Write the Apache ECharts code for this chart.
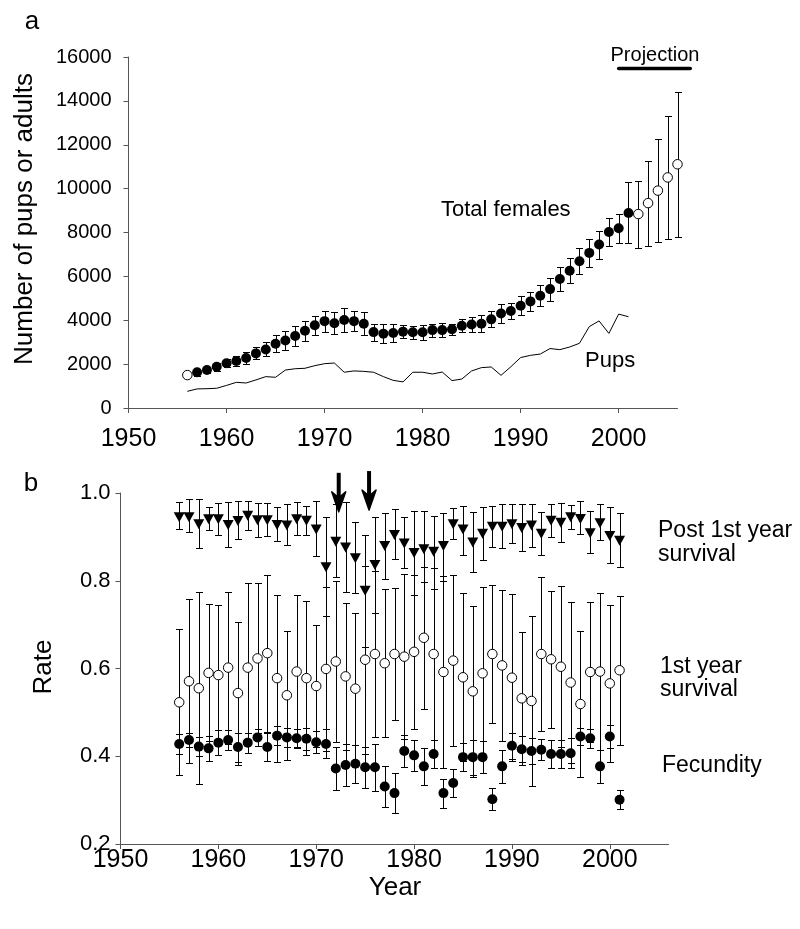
<!DOCTYPE html>
<html><head><meta charset="utf-8">
<script src="https://cdn.jsdelivr.net/npm/echarts@6/dist/echarts.min.js"></script>
<style>html,body{margin:0;padding:0;background:#fff}#c{width:800px;height:929px}</style>
</head><body><div id="c"></div>
<script>
// ---------- Panel a data ----------
const femaleYears = [1956,1957,1958,1959,1960,1961,1962,1963,1964,1965,1966,1967,1968,1969,1970,1971,1972,1973,1974,1975,1976,1977,1978,1979,1980,1981,1982,1983,1984,1985,1986,1987,1988,1989,1990,1991,1992,1993,1994,1995,1996,1997,1998,1999,2000,2001,2002,2003,2004,2005,2006];
const femaleValues = [1500,1630,1730,1880,2040,2140,2280,2490,2670,2930,3080,3280,3520,3770,3960,3860,4010,3960,3840,3460,3390,3420,3480,3450,3450,3550,3550,3590,3750,3810,3840,4040,4310,4420,4660,4860,5120,5420,5880,6260,6690,7070,7450,8020,8190,8890,8840,9340,9910,10510,11110];
const femaleLow = [null,1480,1580,1700,1860,1910,2000,2220,2350,2550,2640,2830,3060,3330,3480,3360,3480,3490,3320,3070,2960,3030,3170,3150,3110,3250,3240,3330,3460,3460,3460,3680,3880,4070,4230,4420,4640,4900,5330,5680,6100,6430,6810,7400,7540,7500,7280,7380,7570,7690,7780];
const femaleHigh = [null,1780,1880,2060,2220,2370,2560,2760,2990,3310,3520,3730,3980,4210,4440,4360,4540,4430,4360,3850,3820,3810,3790,3750,3790,3850,3860,3850,4040,4160,4220,4400,4740,4770,5090,5300,5600,5940,6430,6840,7280,7710,8090,8640,8840,10320,10360,11260,12250,13290,14390];
const femaleOpenYears = [1956,2002,2003,2004,2005,2006];

const pupYears = [1956,1957,1958,1959,1960,1961,1962,1963,1964,1965,1966,1967,1968,1969,1970,1971,1972,1973,1974,1975,1976,1977,1978,1979,1980,1981,1982,1983,1984,1985,1986,1987,1988,1989,1990,1991,1992,1993,1994,1995,1996,1997,1998,1999,2000,2001];
const pupValues = [760,870,880,900,1030,1170,1140,1280,1430,1400,1730,1790,1810,1930,2020,2050,1630,1690,1670,1630,1430,1260,1190,1630,1630,1550,1640,1250,1320,1690,1840,1870,1490,1880,2300,2400,2460,2710,2660,2780,2950,3710,3970,3400,4280,4160];

const projectionSpan = [2000.0, 2007.3];
const projectionLevel = 15480;

const xTicksA = [1950,1960,1970,1980,1990,2000];

// ---------- Panel b data ----------
const rateYears = [1956,1957,1958,1959,1960,1961,1962,1963,1964,1965,1966,1967,1968,1969,1970,1971,1972,1973,1974,1975,1976,1977,1978,1979,1980,1981,1982,1983,1984,1985,1986,1987,1988,1989,1990,1991,1992,1993,1994,1995,1996,1997,1998,1999,2000,2001];
const postSurvival = [0.945,0.945,0.929,0.940,0.940,0.927,0.936,0.948,0.938,0.938,0.927,0.926,0.940,0.937,0.917,0.831,0.889,0.876,0.851,0.777,0.836,0.879,0.904,0.885,0.863,0.872,0.866,0.879,0.929,0.917,0.887,0.907,0.923,0.923,0.929,0.920,0.926,0.907,0.937,0.932,0.945,0.941,0.908,0.931,0.902,0.891];
const postHigh = [0.979,0.986,0.986,0.969,0.978,0.980,0.981,0.982,0.977,0.978,0.968,0.974,0.980,0.970,0.982,0.945,0.974,0.980,0.934,0.904,0.946,0.955,0.964,0.945,0.959,0.960,0.948,0.955,0.965,0.970,0.956,0.967,0.971,0.976,0.974,0.975,0.976,0.957,0.974,0.978,0.973,0.981,0.959,0.974,0.967,0.954];
const postLow = [0.917,0.910,0.875,0.916,0.904,0.878,0.895,0.916,0.900,0.902,0.891,0.881,0.904,0.904,0.857,0.720,0.809,0.774,0.771,0.650,0.727,0.804,0.850,0.829,0.767,0.797,0.781,0.800,0.895,0.859,0.820,0.847,0.878,0.874,0.885,0.868,0.878,0.859,0.899,0.889,0.917,0.907,0.863,0.893,0.840,0.831];

const firstSurvival = [0.523,0.571,0.555,0.590,0.585,0.602,0.544,0.602,0.623,0.635,0.578,0.539,0.593,0.578,0.560,0.599,0.616,0.582,0.554,0.620,0.633,0.612,0.633,0.627,0.638,0.670,0.633,0.592,0.618,0.580,0.548,0.589,0.633,0.607,0.579,0.532,0.526,0.633,0.621,0.604,0.568,0.519,0.592,0.593,0.566,0.596];
const firstError = [0.166,0.187,0.219,0.156,0.159,0.173,0.163,0.194,0.171,0.179,0.190,0.147,0.175,0.175,0.140,0.186,0.184,0.168,0.173,0.214,0.190,0.169,0.150,0.188,0.175,0.162,0.195,0.219,0.195,0.191,0.195,0.196,0.157,0.172,0.190,0.152,0.194,0.176,0.156,0.184,0.184,0.167,0.159,0.178,0.179,0.170];

const fecundity = [0.428,0.437,0.422,0.418,0.431,0.437,0.421,0.431,0.443,0.421,0.447,0.443,0.441,0.440,0.432,0.428,0.372,0.380,0.383,0.375,0.375,0.331,0.316,0.412,0.402,0.377,0.405,0.316,0.339,0.398,0.398,0.398,0.302,0.377,0.424,0.416,0.412,0.415,0.405,0.405,0.407,0.445,0.441,0.377,0.445,0.301];
const fecundityError = [0.023,0.017,0.021,0.028,0.029,0.023,0.033,0.023,0.020,0.032,0.021,0.021,0.020,0.025,0.025,0.033,0.049,0.047,0.043,0.047,0.054,0.046,0.046,0.036,0.035,0.042,0.031,0.033,0.031,0.032,0.040,0.036,0.025,0.038,0.030,0.030,0.030,0.024,0.032,0.032,0.034,0.020,0.022,0.038,0.026,0.021];

const arrowYears = [1972.3, 1975.4];
const arrowFrom = [1.046, 1.050];
const arrowTo = [0.957, 0.961];

const xTicksB = [1950,1960,1970,1980,1990,2000];

// ---------- build ----------
const FONT = 'Liberation Sans, Arial, sans-serif';
const AX = '#555';

function errorBar(capHalf) {
  return function (params, api) {
    const x = api.value(0), lo = api.value(1), hi = api.value(2);
    const a = api.coord([x, lo]), b = api.coord([x, hi]);
    const px = Math.round(a[0]) + 0.5;
    const yl = Math.round(a[1]) + 0.5, yh = Math.round(b[1]) + 0.5;
    const st = { stroke: '#000', lineWidth: 1 };
    return { type: 'group', children: [
      { type: 'line', shape: { x1: px, y1: yl, x2: px, y2: yh }, style: st },
      { type: 'line', shape: { x1: px - capHalf, y1: yl, x2: px + capHalf, y2: yl }, style: st },
      { type: 'line', shape: { x1: px - capHalf, y1: yh, x2: px + capHalf, y2: yh }, style: st }
    ]};
  };
}

const femaleErrData = [], femaleFilled = [], femaleOpen = [];
femaleYears.forEach((y, i) => {
  if (femaleLow[i] != null) femaleErrData.push([y, femaleLow[i], femaleHigh[i]]);
  if (femaleOpenYears.indexOf(y) >= 0) femaleOpen.push([y, femaleValues[i]]);
  else femaleFilled.push([y, femaleValues[i]]);
});
const pupData = pupYears.map((y, i) => [y, pupValues[i]]);

const postErr = rateYears.map((y, i) => [y, postLow[i], postHigh[i]]);
const firstErr = rateYears.map((y, i) => [y, firstSurvival[i] - firstError[i], firstSurvival[i] + firstError[i]]);
const fecErr = rateYears.map((y, i) => [y, fecundity[i] - fecundityError[i], fecundity[i] + fecundityError[i]]);
const postPts = rateYears.map((y, i) => [y, postSurvival[i]]);
const firstPts = rateYears.map((y, i) => [y, firstSurvival[i]]);
const fecPts = rateYears.map((y, i) => [y, fecundity[i]]);
const arrowData = arrowYears.map((y, i) => [y, arrowFrom[i], arrowTo[i]]);

function xAxisCfg(grid, ticks, margin) {
  return {
    type: 'value', gridIndex: grid, min: 1950, max: 2006, interval: 10,
    axisLine: { show: true, onZero: false, lineStyle: { color: AX, width: 1 } },
    axisTick: { show: true, length: 5, customValues: ticks, lineStyle: { color: AX } },
    axisLabel: { customValues: ticks, fontSize: 25, color: '#000', fontFamily: FONT, margin: margin,
      formatter: v => String(v) },
    splitLine: { show: false }
  };
}

const filled = { color: '#000', opacity: 1 };
const hollow = { color: '#fff', borderColor: '#000', borderWidth: 1, opacity: 1 };

const chart = echarts.init(document.getElementById('c'), null, { renderer: 'canvas' });
chart.setOption({
  animation: false,
  backgroundColor: '#fff',
  grid: [
    { left: 128.5, top: 57, width: 549, height: 351, containLabel: false, outerBoundsMode: 'none' },
    { left: 120.5, top: 493, width: 548, height: 351, containLabel: false, outerBoundsMode: 'none' }
  ],
  xAxis: [ xAxisCfg(0, xTicksA, 19), xAxisCfg(1, xTicksB, 4) ],
  yAxis: [
    { type: 'value', gridIndex: 0, min: 0, max: 16000, interval: 2000,
      axisLine: { show: true, onZero: false, lineStyle: { color: AX } },
      axisTick: { show: true, length: 5, lineStyle: { color: AX } },
      axisLabel: { fontSize: 20, color: '#000', fontFamily: FONT, margin: 17, formatter: v => String(v) },
      splitLine: { show: false } },
    { type: 'value', gridIndex: 1, min: 0.2, max: 1.0, interval: 0.2,
      axisLine: { show: true, onZero: false, lineStyle: { color: AX } },
      axisTick: { show: true, length: 5, lineStyle: { color: AX } },
      axisLabel: { fontSize: 22, color: '#000', fontFamily: FONT, margin: 10, formatter: v => v.toFixed(1) },
      splitLine: { show: false } }
  ],
  series: [
    { type: 'line', xAxisIndex: 0, yAxisIndex: 0, data: pupData, symbol: 'none',
      lineStyle: { color: '#000', width: 1 }, z: 2 },
    { type: 'custom', xAxisIndex: 0, yAxisIndex: 0, data: femaleErrData, renderItem: errorBar(3.5),
      encode: { x: 0, y: [1, 2] }, z: 3, clip: false },
    { type: 'scatter', xAxisIndex: 0, yAxisIndex: 0, data: femaleFilled, symbol: 'circle', symbolSize: 10,
      itemStyle: filled, z: 5 },
    { type: 'scatter', xAxisIndex: 0, yAxisIndex: 0, data: femaleOpen, symbol: 'circle', symbolSize: 9.5,
      itemStyle: hollow, z: 5 },
    { type: 'custom', xAxisIndex: 0, yAxisIndex: 0, clip: false, z: 6,
      data: [[projectionSpan[0], projectionSpan[1], projectionLevel]],
      encode: { x: [0, 1], y: 2 },
      renderItem: function (params, api) {
        const a = api.coord([api.value(0), api.value(2)]);
        const b = api.coord([api.value(1), api.value(2)]);
        return { type: 'line', shape: { x1: a[0], y1: a[1], x2: b[0], y2: b[1] },
          style: { stroke: '#000', lineWidth: 3.5, lineCap: 'round' } };
      } },
    // panel b
    { type: 'custom', xAxisIndex: 1, yAxisIndex: 1, data: firstErr, renderItem: errorBar(3.5), encode: { x: 0, y: [1, 2] }, z: 3, clip: false },
    { type: 'custom', xAxisIndex: 1, yAxisIndex: 1, data: postErr, renderItem: errorBar(3.5), encode: { x: 0, y: [1, 2] }, z: 3, clip: false },
    { type: 'custom', xAxisIndex: 1, yAxisIndex: 1, data: fecErr, renderItem: errorBar(3.5), encode: { x: 0, y: [1, 2] }, z: 3, clip: false },
    { type: 'scatter', xAxisIndex: 1, yAxisIndex: 1, data: postPts, symbol: 'triangle', symbolRotate: 180,
      symbolSize: [11, 10], itemStyle: filled, z: 5 },
    { type: 'scatter', xAxisIndex: 1, yAxisIndex: 1, data: firstPts, symbol: 'circle', symbolSize: 9.5,
      itemStyle: hollow, z: 5 },
    { type: 'scatter', xAxisIndex: 1, yAxisIndex: 1, data: fecPts, symbol: 'circle', symbolSize: 10,
      itemStyle: filled, z: 5 },
    { type: 'custom', xAxisIndex: 1, yAxisIndex: 1, data: arrowData, clip: false, z: 7,
      encode: { x: 0, y: [1, 2] },
      renderItem: function (params, api) {
        const t = api.coord([api.value(0), api.value(1)]);
        const h = api.coord([api.value(0), api.value(2)]);
        const x = t[0];
        return { type: 'group', children: [
          { type: 'line', shape: { x1: x, y1: t[1], x2: x, y2: h[1] - 12 }, style: { stroke: '#000', lineWidth: 4 } },
          { type: 'polygon', shape: { points: [[x, h[1]], [x - 7, h[1] - 20], [x, h[1] - 14], [x + 7, h[1] - 20]] },
            style: { fill: '#000', stroke: '#000', lineWidth: 1.5, lineJoin: 'round' } }
        ]};
      } }
  ],
  graphic: [
    { type: 'text', style: { text: 'a', x: 32, y: 22, fontSize: 26, fontFamily: FONT, fill: '#000', textAlign: 'center', textVerticalAlign: 'middle' } },
    { type: 'text', style: { text: 'b', x: 31, y: 484, fontSize: 26, fontFamily: FONT, fill: '#000', textAlign: 'center', textVerticalAlign: 'middle' } },
    { type: 'text', rotation: Math.PI / 2, x: 25, y: 219, style: { text: 'Number of pups or adults', x: 0, y: 0, fontSize: 26, fontFamily: FONT, fill: '#000', textAlign: 'center', textVerticalAlign: 'middle' } },
    { type: 'text', rotation: Math.PI / 2, x: 44, y: 667, style: { text: 'Rate', x: 0, y: 0, fontSize: 26, fontFamily: FONT, fill: '#000', textAlign: 'center', textVerticalAlign: 'middle' } },
    { type: 'text', style: { text: 'Year', x: 395, y: 888, fontSize: 26, fontFamily: FONT, fill: '#000', textAlign: 'center', textVerticalAlign: 'middle' } },
    { type: 'text', style: { text: 'Projection', x: 655, y: 55, fontSize: 20, fontFamily: FONT, fill: '#000', textAlign: 'center', textVerticalAlign: 'middle' } },
    { type: 'text', style: { text: 'Total females', x: 441, y: 210, fontSize: 22, fontFamily: FONT, fill: '#000', textAlign: 'left', textVerticalAlign: 'middle' } },
    { type: 'text', style: { text: 'Pups', x: 585, y: 361, fontSize: 22, fontFamily: FONT, fill: '#000', textAlign: 'left', textVerticalAlign: 'middle' } },
    { type: 'text', style: { text: 'Post 1st year', x: 658, y: 531, fontSize: 23, fontFamily: FONT, fill: '#000', textAlign: 'left', textVerticalAlign: 'middle' } },
    { type: 'text', style: { text: 'survival', x: 658, y: 555, fontSize: 23, fontFamily: FONT, fill: '#000', textAlign: 'left', textVerticalAlign: 'middle' } },
    { type: 'text', style: { text: '1st year', x: 660, y: 667, fontSize: 23, fontFamily: FONT, fill: '#000', textAlign: 'left', textVerticalAlign: 'middle' } },
    { type: 'text', style: { text: 'survival', x: 660, y: 690, fontSize: 23, fontFamily: FONT, fill: '#000', textAlign: 'left', textVerticalAlign: 'middle' } },
    { type: 'text', style: { text: 'Fecundity', x: 662, y: 766, fontSize: 23, fontFamily: FONT, fill: '#000', textAlign: 'left', textVerticalAlign: 'middle' } }
  ]
});
</script></body></html>
